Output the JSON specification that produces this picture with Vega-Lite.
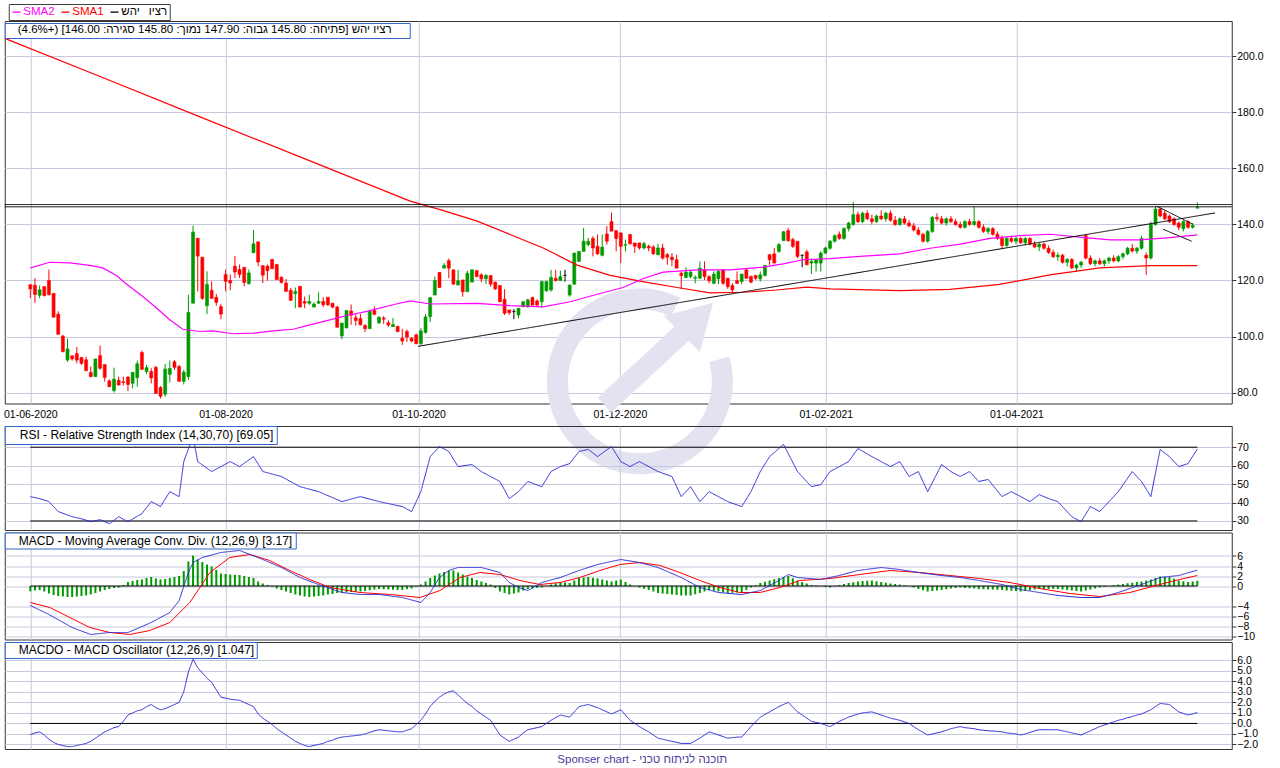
{
"$schema": "https://vega.github.io/schema/vega-lite/v6.json",
"background": "white",
"padding": {"left": 1.75, "top": 3, "right": 0, "bottom": 0},
"bounds": "flush",
"spacing": 22,
"config": {
  "font": "Liberation Sans",
  "view": {"stroke": "#333333", "strokeWidth": 1},
  "scale": {"continuousPadding": 0},
  "axis": {"labelFont": "Liberation Sans", "labelFontSize": 10.5, "labelColor": "#000000", "gridColor": "#c8c8dc", "domain": false, "tickColor": "#333333", "tickSize": 4, "labelPadding": 1, "title": null, "labelOverlap": false, "labelSeparation": -30},
  "legend": {"labelFont": "Liberation Sans", "titleFont": "Liberation Sans", "labelLimit": 1000}
},
"resolve": {"scale": {"color": "independent", "strokeDash": "independent"}, "legend": {"color": "independent", "strokeDash": "independent"}},
"datasets": {
"c": [
{"i":0,"o":118.5,"h":118.6,"l":113.7,"c":117},{"i":1,"o":118.3,"h":120.8,"l":112,"c":115},{"i":2,"o":114.7,"h":118.2,"l":113.7,"c":116.7},{"i":3,"o":117.8,"h":118,"l":114.3,"c":114.6},{"i":4,"o":120,"h":123.9,"l":114.7,"c":114.9},{"i":5,"o":115.4,"h":115.4,"l":106.9,"c":106.9},{"i":6,"o":108,"h":109,"l":100.8,"c":100.8},{"i":7,"o":100.2,"h":100.5,"l":94.4,"c":94.6},{"i":8,"o":91.6,"h":99.2,"l":91,"c":95.6},{"i":9,"o":93.1,"h":93.4,"l":91.4,"c":92},
{"i":10,"o":93.9,"h":96.3,"l":90.4,"c":91.6},{"i":11,"o":92.5,"h":92.8,"l":89.9,"c":90.4},{"i":12,"o":91.7,"h":92.8,"l":87.8,"c":87.8},{"i":13,"o":87.2,"h":89.3,"l":85.4,"c":85.7},{"i":14,"o":85.7,"h":92,"l":85.7,"c":92},{"i":15,"o":93.2,"h":96.8,"l":88.1,"c":88.7},{"i":16,"o":90,"h":90,"l":83.9,"c":85.4},{"i":17,"o":84.2,"h":84.7,"l":81.9,"c":82.1},{"i":18,"o":80.7,"h":88.9,"l":80,"c":84.8},{"i":19,"o":84.4,"h":85.7,"l":82.5,"c":82.7},
{"i":20,"o":83.9,"h":85.7,"l":82.5,"c":83.6},{"i":21,"o":85.5,"h":86,"l":80.5,"c":82.9},{"i":22,"o":83.3,"h":87.4,"l":81.5,"c":87.2},{"i":23,"o":85.3,"h":91.4,"l":82.1,"c":90.3},{"i":24,"o":94.3,"h":95,"l":88.1,"c":88.3},{"i":25,"o":87.5,"h":89.9,"l":86.6,"c":88.9},{"i":26,"o":87.5,"h":88.7,"l":83.3,"c":85.2},{"i":27,"o":89,"h":89.5,"l":79.7,"c":79.7},{"i":28,"o":81.8,"h":82.3,"l":77.9,"c":78.7},{"i":29,"o":79.4,"h":90.2,"l":78.5,"c":88.4},
{"i":30,"o":86.5,"h":91.4,"l":83.6,"c":88.6},{"i":31,"o":91,"h":91.6,"l":88.1,"c":89},{"i":32,"o":89.3,"h":89.9,"l":84,"c":84},{"i":33,"o":84,"h":88.1,"l":82.9,"c":87.3},{"i":34,"o":85.7,"h":114.9,"l":84.5,"c":108.6},{"i":35,"o":111.9,"h":139.6,"l":111.7,"c":137.3},{"i":36,"o":135.1,"h":135.1,"l":116.1,"c":128.7},{"i":37,"o":128.3,"h":128.3,"l":113.1,"c":113.6},{"i":38,"o":111,"h":123.3,"l":108,"c":118.6},{"i":39,"o":116.5,"h":119.7,"l":113.5,"c":113.6},
{"i":40,"o":114,"h":115.2,"l":111,"c":112.2},{"i":41,"o":110.7,"h":111.7,"l":106.2,"c":108},{"i":42,"o":122.1,"h":123.9,"l":116.1,"c":119.7},{"i":43,"o":120,"h":122.1,"l":116.5,"c":119.1},{"i":44,"o":125.1,"h":128.7,"l":120.9,"c":123},{"i":45,"o":123.9,"h":125.7,"l":120.9,"c":122.1},{"i":46,"o":124.7,"h":124.7,"l":117.9,"c":119.3},{"i":47,"o":118.9,"h":123.9,"l":118.5,"c":122.7},{"i":48,"o":129.9,"h":138,"l":129.9,"c":133.1},{"i":49,"o":133.8,"h":133.8,"l":125.1,"c":126.6},
{"i":50,"o":125.3,"h":125.3,"l":119.1,"c":121.9},{"i":51,"o":125.1,"h":125.7,"l":119.9,"c":123.5},{"i":52,"o":127.5,"h":127.7,"l":124.2,"c":124.2},{"i":53,"o":125.7,"h":125.7,"l":120.3,"c":120.3},{"i":54,"o":121.1,"h":121.5,"l":118.9,"c":119.3},{"i":55,"o":119.1,"h":120.5,"l":116.1,"c":116.1},{"i":56,"o":116.5,"h":117.3,"l":112.9,"c":112.9},{"i":57,"o":115.3,"h":117.5,"l":110.1,"c":116.1},{"i":58,"o":117.9,"h":117.9,"l":110.5,"c":110.5},{"i":59,"o":112.5,"h":114.3,"l":110.1,"c":111.9},
{"i":60,"o":111.9,"h":114.9,"l":111.3,"c":112.5},{"i":61,"o":110.5,"h":112.2,"l":110.5,"c":111.6},{"i":62,"o":111.9,"h":115.8,"l":111.7,"c":112.5},{"i":63,"o":112.5,"h":114,"l":110.5,"c":111.3},{"i":64,"o":114,"h":114,"l":111,"c":111.3},{"i":65,"o":111.9,"h":111.9,"l":110.1,"c":110.5},{"i":66,"o":110.5,"h":111,"l":103.3,"c":103.3},{"i":67,"o":100.2,"h":104.8,"l":99,"c":104.8},{"i":68,"o":103.1,"h":109.3,"l":102.9,"c":109.3},{"i":69,"o":109.1,"h":111.4,"l":104.2,"c":107.6},
{"i":70,"o":106.7,"h":107.9,"l":103.9,"c":105.7},{"i":71,"o":106.4,"h":108.1,"l":103.9,"c":104.2},{"i":72,"o":103.9,"h":104.5,"l":101.6,"c":102.8},{"i":73,"o":102.8,"h":109,"l":102.8,"c":109},{"i":74,"o":109.3,"h":110.7,"l":107.6,"c":107.9},{"i":75,"o":104.9,"h":107.2,"l":104.5,"c":106.9},{"i":76,"o":106.6,"h":107.3,"l":104.5,"c":106.2},{"i":77,"o":104.9,"h":105.8,"l":103.4,"c":104.1},{"i":78,"o":103.5,"h":106.6,"l":103.4,"c":104.3},{"i":79,"o":103.6,"h":103.9,"l":101.5,"c":101.8},
{"i":80,"o":99.4,"h":102.8,"l":97,"c":98.4},{"i":81,"o":101.8,"h":102.5,"l":98.1,"c":99.8},{"i":82,"o":99.4,"h":99.8,"l":97.9,"c":98.4},{"i":83,"o":100.6,"h":101,"l":97.4,"c":97.4},{"i":84,"o":97.5,"h":103,"l":97,"c":102},{"i":85,"o":101.5,"h":108,"l":101,"c":107},{"i":86,"o":107.1,"h":113.9,"l":105.2,"c":113.9},{"i":87,"o":114.8,"h":121.4,"l":114.8,"c":120},{"i":88,"o":122.9,"h":122.9,"l":117.3,"c":117.5},{"i":89,"o":124.4,"h":126.2,"l":124.4,"c":125.4},
{"i":90,"o":127.1,"h":127.8,"l":120.8,"c":124.4},{"i":91,"o":123.8,"h":123.8,"l":118.4,"c":118.7},{"i":92,"o":118.4,"h":123.8,"l":118.2,"c":119.9},{"i":93,"o":120.2,"h":120.2,"l":114.2,"c":116},{"i":94,"o":116,"h":123.5,"l":116,"c":122.6},{"i":95,"o":119.4,"h":124.1,"l":119.4,"c":123.8},{"i":96,"o":123.5,"h":123.8,"l":121.1,"c":121.4},{"i":97,"o":122,"h":122.6,"l":119.4,"c":120.6},{"i":98,"o":120.6,"h":122.3,"l":118.7,"c":121.8},{"i":99,"o":121.8,"h":121.8,"l":117.8,"c":118.7},
{"i":100,"o":119.4,"h":119.6,"l":116.6,"c":117},{"i":101,"o":118.2,"h":118.2,"l":112.4,"c":112.4},{"i":102,"o":113.3,"h":116.9,"l":107.7,"c":108.3},{"i":103,"o":109.5,"h":109.5,"l":107.7,"c":108.5},{"i":104,"o":108.9,"h":109.8,"l":106.2,"c":108.9},{"i":105,"o":107.7,"h":110.1,"l":106.5,"c":110.1},{"i":106,"o":110.6,"h":112.7,"l":110.6,"c":112.4},{"i":107,"o":110.6,"h":113.5,"l":110.3,"c":113.1},{"i":108,"o":113.9,"h":114.2,"l":111.2,"c":111.2},{"i":109,"o":112.7,"h":113.3,"l":111,"c":111.2},
{"i":110,"o":112.4,"h":119.9,"l":110.3,"c":119.6},{"i":111,"o":116.3,"h":119.9,"l":116,"c":119.6},{"i":112,"o":116.6,"h":123.8,"l":116,"c":121.1},{"i":113,"o":120.8,"h":123.8,"l":119.6,"c":120},{"i":114,"o":120,"h":123.5,"l":119.9,"c":121.4},{"i":115,"o":121.8,"h":123.8,"l":119.6,"c":121.8},{"i":116,"o":114.8,"h":118.4,"l":114.2,"c":118.4},{"i":117,"o":118.7,"h":129.8,"l":118.4,"c":129.8},{"i":118,"o":126.8,"h":130.4,"l":126.8,"c":130.4},{"i":119,"o":130.4,"h":138.8,"l":130.4,"c":134},
{"i":120,"o":132.8,"h":135.2,"l":132.2,"c":134},{"i":121,"o":135,"h":135.8,"l":128.6,"c":131.6},{"i":122,"o":132.2,"h":136.4,"l":129.2,"c":129.5},{"i":123,"o":129,"h":136.4,"l":128.6,"c":131.9},{"i":124,"o":136.6,"h":139.4,"l":132.8,"c":134},{"i":125,"o":141,"h":144.2,"l":137.6,"c":137.6},{"i":126,"o":137.8,"h":137.8,"l":130.4,"c":135},{"i":127,"o":137,"h":137,"l":126.2,"c":132.2},{"i":128,"o":132.6,"h":134.6,"l":130.4,"c":132.8},{"i":129,"o":136.4,"h":136.4,"l":132.8,"c":133.1},
{"i":130,"o":133.4,"h":133.4,"l":129.8,"c":132.2},{"i":131,"o":133.4,"h":133.4,"l":131,"c":131.6},{"i":132,"o":131.6,"h":133.8,"l":131,"c":133.1},{"i":133,"o":132.2,"h":132.8,"l":130.4,"c":131.6},{"i":134,"o":131.9,"h":132.6,"l":129.2,"c":129.5},{"i":135,"o":129.2,"h":133.1,"l":129,"c":131.6},{"i":136,"o":131.6,"h":133.1,"l":127.4,"c":128},{"i":137,"o":129.2,"h":129.8,"l":125.6,"c":128.3},{"i":138,"o":128.3,"h":129.8,"l":125.1,"c":127.4},{"i":139,"o":127.4,"h":129.2,"l":124.4,"c":124.4},
{"i":140,"o":122.6,"h":123.2,"l":117,"c":121.8},{"i":141,"o":121.1,"h":124.7,"l":120.8,"c":123},{"i":142,"o":121.4,"h":123.8,"l":120.8,"c":123},{"i":143,"o":120.8,"h":121.8,"l":119,"c":121.1},{"i":144,"o":120.8,"h":126.8,"l":120.6,"c":124.4},{"i":145,"o":123.8,"h":126.8,"l":120.2,"c":121.4},{"i":146,"o":121.4,"h":121.8,"l":119,"c":119.9},{"i":147,"o":119,"h":123.2,"l":118.7,"c":122.3},{"i":148,"o":120.6,"h":123.8,"l":118.7,"c":123.2},{"i":149,"o":123.8,"h":123.8,"l":118.4,"c":119},
{"i":150,"o":120.8,"h":120.8,"l":117,"c":117.8},{"i":151,"o":118.2,"h":119,"l":115.4,"c":116.6},{"i":152,"o":119.9,"h":123.2,"l":118.7,"c":119},{"i":153,"o":119.6,"h":122.3,"l":118.7,"c":122.3},{"i":154,"o":123.8,"h":124.4,"l":120.6,"c":120.8},{"i":155,"o":121.4,"h":121.8,"l":119,"c":119.4},{"i":156,"o":121.8,"h":121.8,"l":120.2,"c":120.8},{"i":157,"o":120.6,"h":123.2,"l":119.6,"c":122},{"i":158,"o":121.8,"h":125.4,"l":121.4,"c":125.4},{"i":159,"o":129.2,"h":129.5,"l":125.6,"c":127.4},
{"i":160,"o":129.5,"h":131.6,"l":126.2,"c":126.2},{"i":161,"o":130.4,"h":133.4,"l":129.8,"c":132.8},{"i":162,"o":134.2,"h":137.6,"l":134.2,"c":137.4},{"i":163,"o":137.8,"h":138.8,"l":133.8,"c":134.2},{"i":164,"o":134.6,"h":135.2,"l":131.6,"c":132.2},{"i":165,"o":134,"h":134,"l":128,"c":128.6},{"i":166,"o":129,"h":129.2,"l":124.7,"c":129},{"i":167,"o":130.2,"h":131,"l":125.4,"c":125.6},{"i":168,"o":126.2,"h":127.8,"l":122.3,"c":126.8},{"i":169,"o":126.2,"h":127.4,"l":123.2,"c":127.4},
{"i":170,"o":126.2,"h":130.4,"l":123.2,"c":129.8},{"i":171,"o":129.8,"h":132,"l":129.4,"c":131.6},{"i":172,"o":131.5,"h":134.5,"l":131,"c":134},{"i":173,"o":134,"h":136.5,"l":133.5,"c":136},{"i":174,"o":136.5,"h":137.5,"l":134.5,"c":135},{"i":175,"o":135,"h":139,"l":134.5,"c":138.5},{"i":176,"o":138.5,"h":141,"l":137.5,"c":140.5},{"i":177,"o":140,"h":148,"l":139.5,"c":143.5},{"i":178,"o":143.5,"h":144.5,"l":140.5,"c":141},{"i":179,"o":141,"h":144.5,"l":140.5,"c":144},
{"i":180,"o":144,"h":145,"l":141.5,"c":142},{"i":181,"o":142,"h":143.5,"l":140,"c":141},{"i":182,"o":141,"h":143.5,"l":140.5,"c":143},{"i":183,"o":143,"h":145,"l":141.5,"c":142},{"i":184,"o":142,"h":144.5,"l":141,"c":144},{"i":185,"o":144,"h":145,"l":141,"c":141.5},{"i":186,"o":141.5,"h":143,"l":139.5,"c":140},{"i":187,"o":140,"h":142.5,"l":139.5,"c":142},{"i":188,"o":142,"h":143,"l":140,"c":140.5},{"i":189,"o":140.5,"h":141.5,"l":139,"c":139.5},
{"i":190,"o":139.5,"h":140.5,"l":137.5,"c":138},{"i":191,"o":138,"h":139,"l":136,"c":136.5},{"i":192,"o":136.5,"h":137,"l":133.5,"c":134},{"i":193,"o":134,"h":138,"l":133.5,"c":137.5},{"i":194,"o":137.5,"h":143,"l":137,"c":142.5},{"i":195,"o":142.5,"h":144,"l":141,"c":142},{"i":196,"o":142,"h":143,"l":140,"c":140.5},{"i":197,"o":140.5,"h":142.5,"l":139.5,"c":142},{"i":198,"o":142,"h":143,"l":140.5,"c":141},{"i":199,"o":141,"h":142,"l":139.5,"c":140},
{"i":200,"o":140,"h":141,"l":138.5,"c":139},{"i":201,"o":139,"h":141.5,"l":138.5,"c":141},{"i":202,"o":141,"h":142,"l":139.5,"c":140},{"i":203,"o":140,"h":146.5,"l":139.5,"c":141},{"i":204,"o":141,"h":141.5,"l":138.5,"c":139},{"i":205,"o":139,"h":140,"l":137,"c":137.5},{"i":206,"o":137.5,"h":139,"l":136.5,"c":138.5},{"i":207,"o":138.5,"h":139,"l":136,"c":136.5},{"i":208,"o":136.5,"h":137.5,"l":134.5,"c":135},{"i":209,"o":135,"h":136,"l":131.5,"c":132.5},
{"i":210,"o":132.5,"h":135.5,"l":132,"c":135},{"i":211,"o":135,"h":136,"l":133.5,"c":134},{"i":212,"o":134,"h":135.5,"l":133,"c":135},{"i":213,"o":135,"h":135.5,"l":133,"c":133.5},{"i":214,"o":133.5,"h":135.5,"l":132.5,"c":135},{"i":215,"o":135,"h":135.5,"l":132.5,"c":133},{"i":216,"o":133,"h":134,"l":131.5,"c":132},{"i":217,"o":132,"h":133.5,"l":130.5,"c":133},{"i":218,"o":133,"h":133.5,"l":131,"c":131.5},{"i":219,"o":131.5,"h":132.5,"l":129.5,"c":130},
{"i":220,"o":130,"h":131,"l":128,"c":128.5},{"i":221,"o":128.5,"h":130,"l":127,"c":129},{"i":222,"o":129,"h":129.5,"l":126,"c":126.5},{"i":223,"o":126.5,"h":128,"l":125,"c":127.5},{"i":224,"o":127.5,"h":128,"l":124,"c":124.5},{"i":225,"o":124.5,"h":126,"l":123,"c":125.5},{"i":226,"o":125.5,"h":127,"l":124.5,"c":126.5},{"i":227,"o":136,"h":136.5,"l":127.5,"c":128},{"i":228,"o":128,"h":129,"l":125.5,"c":126},{"i":229,"o":126,"h":127.5,"l":125,"c":127},
{"i":230,"o":127,"h":128,"l":125.5,"c":126},{"i":231,"o":126,"h":127.5,"l":125,"c":127},{"i":232,"o":127,"h":128.5,"l":126,"c":128},{"i":233,"o":128,"h":129,"l":126.5,"c":127},{"i":234,"o":127,"h":129,"l":126.5,"c":128.5},{"i":235,"o":128.5,"h":130,"l":127.5,"c":129.5},{"i":236,"o":129.5,"h":132,"l":129,"c":131.5},{"i":237,"o":131.5,"h":133,"l":130,"c":130.5},{"i":238,"o":130.5,"h":132,"l":129.5,"c":131.5},{"i":239,"o":131.5,"h":136,"l":131,"c":135},
{"i":240,"o":129,"h":130,"l":122,"c":128},{"i":241,"o":128,"h":141,"l":127.5,"c":140},{"i":242,"o":140,"h":146.5,"l":139.5,"c":145.5},{"i":243,"o":145.5,"h":146,"l":142.5,"c":143},{"i":244,"o":144,"h":145,"l":141.5,"c":142},{"i":245,"o":143,"h":143.5,"l":140.5,"c":141},{"i":246,"o":142,"h":142.5,"l":139.5,"c":140},{"i":247,"o":140.5,"h":141,"l":138,"c":139},{"i":248,"o":138.5,"h":141.5,"l":137.5,"c":141},{"i":249,"o":141,"h":141.5,"l":138.5,"c":139},
{"i":250,"o":139,"h":140.5,"l":138.5,"c":139.6},{"i":251,"o":145.8,"h":147.9,"l":145.8,"c":146}
],
"sma": [
{"s":"SMA1","i":-5.5,"v":206.4},{"s":"SMA1","i":15,"v":192.8},{"s":"SMA1","i":36.5,"v":178.4},{"s":"SMA1","i":58,"v":164.1},{"s":"SMA1","i":81.7,"v":148.3},{"s":"SMA1","i":88.7,"v":145},{"s":"SMA1","i":96.1,"v":141.2},{"s":"SMA1","i":103.2,"v":136.4},{"s":"SMA1","i":110.3,"v":131.6},{"s":"SMA1","i":117.6,"v":125.5},{"s":"SMA1","i":124.7,"v":121.8},{"s":"SMA1","i":131.7,"v":119.6},{"s":"SMA1","i":139.1,"v":117.5},{"s":"SMA1","i":146.2,"v":115.6},{"s":"SMA1","i":153.3,"v":115.8},{"s":"SMA1","i":160.5,"v":116.6},{"s":"SMA1","i":167,"v":117.6},{"s":"SMA1","i":172,"v":117},{"s":"SMA1","i":187,"v":116.4},{"s":"SMA1","i":197.8,"v":116.8},{"s":"SMA1","i":208.5,"v":118.6},{"s":"SMA1","i":219.3,"v":122},{"s":"SMA1","i":230,"v":124.5},{"s":"SMA1","i":240.8,"v":125.3},{"s":"SMA1","i":251,"v":125.3},
{"s":"SMA2","i":0,"v":124.5},{"s":"SMA2","i":4.2,"v":126.5},{"s":"SMA2","i":8.5,"v":126.3},{"s":"SMA2","i":12.8,"v":125.4},{"s":"SMA2","i":15.6,"v":124.5},{"s":"SMA2","i":18.6,"v":121.7},{"s":"SMA2","i":20.4,"v":119.1},{"s":"SMA2","i":24.2,"v":114.3},{"s":"SMA2","i":27.2,"v":110.1},{"s":"SMA2","i":30,"v":106},{"s":"SMA2","i":32.8,"v":102.6},{"s":"SMA2","i":36.5,"v":101.8},{"s":"SMA2","i":39.3,"v":102},{"s":"SMA2","i":43.6,"v":101},{"s":"SMA2","i":47.9,"v":101.2},{"s":"SMA2","i":52.2,"v":102},{"s":"SMA2","i":56.5,"v":102.6},{"s":"SMA2","i":59.5,"v":103.9},{"s":"SMA2","i":63.8,"v":105.7},{"s":"SMA2","i":68.1,"v":107.5},{"s":"SMA2","i":72.4,"v":109},{"s":"SMA2","i":78.9,"v":111.7},{"s":"SMA2","i":81.7,"v":112.7},{"s":"SMA2","i":86,"v":111.6},{"s":"SMA2","i":96.1,"v":111.8},{"s":"SMA2","i":103.2,"v":111},{"s":"SMA2","i":110.3,"v":110.6},{"s":"SMA2","i":116.1,"v":112.4},{"s":"SMA2","i":121.9,"v":115.1},{"s":"SMA2","i":127.5,"v":117.5},{"s":"SMA2","i":131.7,"v":120.6},{"s":"SMA2","i":136.1,"v":123},{"s":"SMA2","i":143.4,"v":123.8},{"s":"SMA2","i":150.5,"v":123.8},{"s":"SMA2","i":157.6,"v":124.8},{"s":"SMA2","i":161.9,"v":125.9},{"s":"SMA2","i":166.2,"v":127.4},{"s":"SMA2","i":172,"v":127.8},{"s":"SMA2","i":178.4,"v":128.6},{"s":"SMA2","i":187,"v":129.5},{"s":"SMA2","i":193.5,"v":131.5},{"s":"SMA2","i":200,"v":133},{"s":"SMA2","i":206.4,"v":135},{"s":"SMA2","i":212.8,"v":136},{"s":"SMA2","i":219.3,"v":136.5},{"s":"SMA2","i":225.7,"v":135.5},{"s":"SMA2","i":232.2,"v":134.5},{"s":"SMA2","i":238.6,"v":134.5},{"s":"SMA2","i":245.1,"v":135.3},{"s":"SMA2","i":251,"v":136.3}
],
"tl": [
{"g":"t1","i":83.4,"p":96.5},{"g":"t1","i":254.8,"p":144.1},
{"g":"h1","i":-5.5,"p":147.1},{"g":"h1","i":258.4,"p":147.1},
{"g":"h2","i":-5.5,"p":146.3},{"g":"h2","i":258.4,"p":146.3},
{"g":"f1","i":242.3,"p":146.5},{"g":"f1","i":250,"p":140.1},
{"g":"f2","i":243.6,"p":138.3},{"g":"f2","i":249.8,"p":134}
],
"wm": [{"g":"a","i":123.5,"p":75.5},{"g":"a","i":141.5,"p":103.2}],
"wmc": [{"i":131.1,"p":84}],
"wmh": [{"i":143.5,"p":106.5}],
"rsi": [
{"i":0,"v":43.2},{"i":2,"v":42.1},{"i":4,"v":40.5},{"i":6,"v":35.1},{"i":9,"v":32.3},{"i":11,"v":31.2},{"i":13,"v":29.6},{"i":15,"v":30.7},{"i":17,"v":28.5},{"i":19,"v":32.3},{"i":21,"v":29.6},{"i":24,"v":34},{"i":26,"v":40.5},{"i":28,"v":37.8},{"i":30,"v":45.9},{"i":32,"v":43.2},{"i":33,"v":62.2},{"i":35,"v":75.8},{"i":36,"v":62.2},{"i":39,"v":56.8},{"i":41,"v":59.5},{"i":43,"v":62.2},{"i":45,"v":59.5},{"i":48,"v":64.9},{"i":50,"v":56.8},{"i":54,"v":54.1},{"i":58,"v":48.6},{"i":62,"v":45.9},{"i":67,"v":40.5},{"i":71,"v":43.2},{"i":75,"v":40.5},{"i":80,"v":37.8},{"i":82,"v":35.1},{"i":84,"v":45.9},{"i":86,"v":64.9},{"i":88,"v":70.4},{"i":90,"v":67.7},{"i":92,"v":59.5},{"i":95,"v":60.6},{"i":97,"v":56.8},{"i":99,"v":54.1},{"i":101,"v":51.4},{"i":103,"v":42.1},{"i":105,"v":45.9},{"i":107,"v":51.4},{"i":110,"v":48.6},{"i":112,"v":56.8},{"i":114,"v":59.5},{"i":116,"v":61.1},{"i":118,"v":67.7},{"i":120,"v":68.8},{"i":122,"v":64.9},{"i":125,"v":70.4},{"i":127,"v":62.2},{"i":129,"v":59.5},{"i":131,"v":62.2},{"i":133,"v":59.5},{"i":135,"v":56.8},{"i":138,"v":54.1},{"i":140,"v":43.2},{"i":142,"v":48.6},{"i":144,"v":40.5},{"i":146,"v":45.9},{"i":148,"v":43.2},{"i":150,"v":40.5},{"i":153,"v":37.8},{"i":155,"v":45.9},{"i":157,"v":56.8},{"i":159,"v":64.9},{"i":162,"v":71.5},{"i":165,"v":56.8},{"i":168,"v":48.6},{"i":170,"v":49.7},{"i":172,"v":56.8},{"i":174,"v":59.5},{"i":176,"v":62.2},{"i":178,"v":69.3},{"i":181,"v":64.9},{"i":183,"v":62.2},{"i":185,"v":59.5},{"i":187,"v":62.2},{"i":189,"v":54.1},{"i":191,"v":56.8},{"i":193,"v":45.9},{"i":196,"v":60.6},{"i":198,"v":56.8},{"i":200,"v":54.1},{"i":202,"v":56.8},{"i":204,"v":51.4},{"i":206,"v":52.5},{"i":209,"v":43.2},{"i":211,"v":45.9},{"i":213,"v":43.2},{"i":215,"v":40.5},{"i":217,"v":44.3},{"i":219,"v":42.1},{"i":221,"v":40.5},{"i":224,"v":32.3},{"i":226,"v":29.6},{"i":228,"v":37.8},{"i":230,"v":35.1},{"i":232,"v":40.5},{"i":234,"v":45.9},{"i":237,"v":56.8},{"i":239,"v":51.4},{"i":241,"v":43.2},{"i":243,"v":68.8},{"i":245,"v":64.9},{"i":247,"v":59.5},{"i":249,"v":61.1},{"i":251,"v":69.05}
],
"macd": [
{"i":0,"v":-3.9},{"i":4,"v":-5.7},{"i":9,"v":-8.3},{"i":13,"v":-9.7},{"i":17,"v":-9.3},{"i":21,"v":-9.3},{"i":26,"v":-7.3},{"i":30,"v":-5.3},{"i":32,"v":-2.9},{"i":34,"v":2.7},{"i":35,"v":4.7},{"i":37,"v":5.7},{"i":41,"v":6.7},{"i":45,"v":7.1},{"i":49,"v":5.7},{"i":54,"v":3.7},{"i":58,"v":1.7},{"i":62,"v":0.3},{"i":67,"v":-1.3},{"i":71,"v":-1.7},{"i":75,"v":-1.7},{"i":80,"v":-2.3},{"i":84,"v":-3.3},{"i":86,"v":-1.3},{"i":88,"v":1.7},{"i":90,"v":3.1},{"i":92,"v":3.7},{"i":97,"v":3.7},{"i":101,"v":2.7},{"i":103,"v":0.7},{"i":105,"v":-0.3},{"i":107,"v":-0.9},{"i":110,"v":0.7},{"i":114,"v":1.7},{"i":118,"v":3.1},{"i":122,"v":4.3},{"i":127,"v":5.3},{"i":131,"v":4.7},{"i":135,"v":3.7},{"i":140,"v":1.7},{"i":144,"v":-0.3},{"i":148,"v":-1.3},{"i":153,"v":-1.7},{"i":157,"v":-0.9},{"i":161,"v":1.1},{"i":163,"v":2.3},{"i":165,"v":1.7},{"i":170,"v":1.3},{"i":174,"v":2.1},{"i":178,"v":3.1},{"i":183,"v":3.7},{"i":187,"v":3.3},{"i":191,"v":2.7},{"i":196,"v":2.1},{"i":200,"v":1.7},{"i":204,"v":1.1},{"i":209,"v":0.3},{"i":213,"v":-0.7},{"i":217,"v":-1.3},{"i":221,"v":-1.9},{"i":226,"v":-2.3},{"i":230,"v":-2.3},{"i":234,"v":-1.3},{"i":239,"v":0.3},{"i":243,"v":1.7},{"i":247,"v":2.1},{"i":251,"v":3.17}
],
"sig": [
{"i":0,"v":-3.3},{"i":4.2,"v":-4.3},{"i":8.5,"v":-6.3},{"i":12.8,"v":-8.3},{"i":17.1,"v":-9.3},{"i":21.4,"v":-9.7},{"i":25.7,"v":-8.9},{"i":30,"v":-7.3},{"i":34.3,"v":-3.3},{"i":36.5,"v":-0.3},{"i":38.6,"v":2.7},{"i":42.9,"v":5.7},{"i":47.2,"v":6.3},{"i":51.5,"v":5.1},{"i":55.8,"v":3.1},{"i":60.1,"v":1.3},{"i":64.5,"v":-0.3},{"i":70.9,"v":-1.3},{"i":77.4,"v":-1.7},{"i":83.8,"v":-2.3},{"i":88.1,"v":-0.9},{"i":92.4,"v":1.7},{"i":96.7,"v":2.7},{"i":101,"v":2.3},{"i":105.3,"v":1.1},{"i":109.6,"v":0.3},{"i":113.9,"v":0.7},{"i":118.2,"v":1.7},{"i":122.5,"v":3.1},{"i":126.8,"v":4.3},{"i":131.1,"v":4.7},{"i":135.4,"v":4.1},{"i":139.7,"v":2.7},{"i":144,"v":1.1},{"i":148.3,"v":-0.3},{"i":152.6,"v":-1.3},{"i":156.9,"v":-1.3},{"i":161.2,"v":-0.3},{"i":165.5,"v":1.1},{"i":172,"v":1.5},{"i":178.4,"v":2.3},{"i":184.9,"v":3.1},{"i":191.3,"v":2.7},{"i":197.8,"v":2.1},{"i":204.2,"v":1.5},{"i":210.7,"v":0.7},{"i":217.1,"v":-0.5},{"i":223.6,"v":-1.5},{"i":230,"v":-2.1},{"i":236.5,"v":-1.3},{"i":242.9,"v":0.3},{"i":247.2,"v":1.3},{"i":251,"v":2.1}
],
"osc": [
{"i":0,"v":-1.07},{"i":1,"v":-0.9},{"i":2,"v":-0.8},{"i":3,"v":-1.1},{"i":4,"v":-1.5},{"i":5,"v":-1.8},{"i":6,"v":-2.0},{"i":7,"v":-2.1},{"i":8,"v":-2.2},{"i":9,"v":-2.2},
{"i":10,"v":-2.1},{"i":11,"v":-2.0},{"i":12,"v":-1.9},{"i":13,"v":-1.7},{"i":14,"v":-1.4},{"i":15,"v":-1.1},{"i":16,"v":-0.8},{"i":17,"v":-0.6},{"i":18,"v":-0.4},{"i":19,"v":-0.3},
{"i":20,"v":0.2},{"i":21,"v":0.8},{"i":22,"v":1.0},{"i":23,"v":1.2},{"i":24,"v":1.3},{"i":25,"v":1.6},{"i":26,"v":1.8},{"i":27,"v":1.5},{"i":28,"v":1.3},{"i":29,"v":1.4},
{"i":30,"v":1.6},{"i":31,"v":1.8},{"i":32,"v":2.0},{"i":33,"v":3.0},{"i":34,"v":4.9},{"i":35,"v":6.1},{"i":36,"v":5.3},{"i":37,"v":4.8},{"i":38,"v":4.3},{"i":39,"v":3.9},
{"i":40,"v":3.2},{"i":41,"v":2.5},{"i":42,"v":2.4},{"i":43,"v":2.3},{"i":44,"v":2.25},{"i":45,"v":2.2},{"i":46,"v":2.0},{"i":47,"v":1.8},{"i":48,"v":1.6},{"i":49,"v":0.9},
{"i":50,"v":0.5},{"i":51,"v":0.2},{"i":52,"v":-0.1},{"i":53,"v":-0.5},{"i":54,"v":-0.8},{"i":55,"v":-1.1},{"i":56,"v":-1.4},{"i":57,"v":-1.7},{"i":58,"v":-1.9},{"i":59,"v":-2.1},
{"i":60,"v":-2.2},{"i":61,"v":-2.1},{"i":62,"v":-2.0},{"i":63,"v":-1.9},{"i":64,"v":-1.7},{"i":65,"v":-1.6},{"i":66,"v":-1.4},{"i":67,"v":-1.3},{"i":68,"v":-1.25},{"i":69,"v":-1.2},
{"i":70,"v":-1.15},{"i":71,"v":-1.1},{"i":72,"v":-1.0},{"i":73,"v":-0.85},{"i":74,"v":-0.7},{"i":75,"v":-0.6},{"i":76,"v":-0.65},{"i":77,"v":-0.7},{"i":78,"v":-0.75},{"i":79,"v":-0.8},
{"i":80,"v":-0.8},{"i":81,"v":-0.65},{"i":82,"v":-0.5},{"i":83,"v":-0.1},{"i":84,"v":0.3},{"i":85,"v":0.9},{"i":86,"v":1.6},{"i":87,"v":2.1},{"i":88,"v":2.5},{"i":89,"v":2.8},
{"i":90,"v":3.0},{"i":91,"v":3.1},{"i":92,"v":2.7},{"i":93,"v":2.3},{"i":94,"v":1.9},{"i":95,"v":1.6},{"i":96,"v":1.2},{"i":97,"v":0.9},{"i":98,"v":0.6},{"i":99,"v":0.3},
{"i":100,"v":-0.4},{"i":101,"v":-1.1},{"i":102,"v":-1.4},{"i":103,"v":-1.7},{"i":104,"v":-1.5},{"i":105,"v":-1.3},{"i":106,"v":-0.9},{"i":107,"v":-0.6},{"i":108,"v":-0.5},{"i":109,"v":-0.4},
{"i":110,"v":-0.3},{"i":111,"v":0},{"i":112,"v":0.3},{"i":113,"v":0.55},{"i":114,"v":0.8},{"i":115,"v":0.7},{"i":116,"v":0.6},{"i":117,"v":1.1},{"i":118,"v":1.6},{"i":119,"v":1.7},
{"i":120,"v":1.8},{"i":121,"v":1.65},{"i":122,"v":1.5},{"i":123,"v":1.3},{"i":124,"v":1.1},{"i":125,"v":0.9},{"i":126,"v":1.1},{"i":127,"v":1.3},{"i":128,"v":0.8},{"i":129,"v":0.3},
{"i":130,"v":0},{"i":131,"v":-0.3},{"i":132,"v":-0.55},{"i":133,"v":-0.8},{"i":134,"v":-1.1},{"i":135,"v":-1.4},{"i":136,"v":-1.5},{"i":137,"v":-1.6},{"i":138,"v":-1.7},{"i":139,"v":-1.8},
{"i":140,"v":-1.9},{"i":141,"v":-1.9},{"i":142,"v":-1.9},{"i":143,"v":-1.65},{"i":144,"v":-1.4},{"i":145,"v":-1.1},{"i":146,"v":-0.8},{"i":147,"v":-0.95},{"i":148,"v":-1.1},{"i":149,"v":-1.25},
{"i":150,"v":-1.4},{"i":151,"v":-1.35},{"i":152,"v":-1.3},{"i":153,"v":-1.3},{"i":154,"v":-0.8},{"i":155,"v":-0.3},{"i":156,"v":0.15},{"i":157,"v":0.6},{"i":158,"v":0.85},{"i":159,"v":1.1},
{"i":160,"v":1.35},{"i":161,"v":1.6},{"i":162,"v":1.8},{"i":163,"v":2.0},{"i":164,"v":1.55},{"i":165,"v":1.1},{"i":166,"v":0.8},{"i":167,"v":0.5},{"i":168,"v":0.2},{"i":169,"v":0.1},
{"i":170,"v":0},{"i":171,"v":-0.15},{"i":172,"v":-0.3},{"i":173,"v":-0.05},{"i":174,"v":0.2},{"i":175,"v":0.4},{"i":176,"v":0.6},{"i":177,"v":0.75},{"i":178,"v":0.9},{"i":179,"v":1.0},
{"i":180,"v":1.05},{"i":181,"v":1.1},{"i":182,"v":0.95},{"i":183,"v":0.8},{"i":184,"v":0.65},{"i":185,"v":0.5},{"i":186,"v":0.4},{"i":187,"v":0.3},{"i":188,"v":0.15},{"i":189,"v":0},
{"i":190,"v":-0.3},{"i":191,"v":-0.6},{"i":192,"v":-0.85},{"i":193,"v":-1.1},{"i":194,"v":-1.0},{"i":195,"v":-0.9},{"i":196,"v":-0.8},{"i":197,"v":-0.65},{"i":198,"v":-0.5},{"i":199,"v":-0.4},
{"i":200,"v":-0.3},{"i":201,"v":-0.4},{"i":202,"v":-0.45},{"i":203,"v":-0.5},{"i":204,"v":-0.6},{"i":205,"v":-0.65},{"i":206,"v":-0.7},{"i":207,"v":-0.72},{"i":208,"v":-0.76},{"i":209,"v":-0.8},
{"i":210,"v":-0.9},{"i":211,"v":-0.95},{"i":212,"v":-1.0},{"i":213,"v":-1.1},{"i":214,"v":-1.0},{"i":215,"v":-0.85},{"i":216,"v":-0.7},{"i":217,"v":-0.6},{"i":218,"v":-0.6},{"i":219,"v":-0.6},
{"i":220,"v":-0.6},{"i":221,"v":-0.6},{"i":222,"v":-0.7},{"i":223,"v":-0.8},{"i":224,"v":-0.9},{"i":225,"v":-1.0},{"i":226,"v":-1.1},{"i":227,"v":-0.9},{"i":228,"v":-0.7},{"i":229,"v":-0.5},
{"i":230,"v":-0.3},{"i":231,"v":-0.15},{"i":232,"v":0},{"i":233,"v":0.15},{"i":234,"v":0.3},{"i":235,"v":0.4},{"i":236,"v":0.55},{"i":237,"v":0.65},{"i":238,"v":0.8},{"i":239,"v":0.9},
{"i":240,"v":1.1},{"i":241,"v":1.3},{"i":242,"v":1.6},{"i":243,"v":1.9},{"i":244,"v":1.85},{"i":245,"v":1.8},{"i":246,"v":1.45},{"i":247,"v":1.1},{"i":248,"v":0.95},{"i":249,"v":0.8},
{"i":250,"v":0.9},{"i":251,"v":1.047}
]
},
"vconcat": [
{
  "width": 1227, "height": 382.5,
  "layer": [
    {"data": {"name": "wmc"}, "mark": {"type": "arc", "radius": 93, "radius2": 72, "theta": 1.3, "theta2": 6.73, "color": "#e2e2f1"},
     "encoding": {
       "x": {"field": "i", "type": "quantitative", "scale": {"domain": [-5.5, 258.4], "nice": false, "zero": false, "padding": 0},
             "axis": {"values": [0, 42, 83.5, 126.8, 171.1, 212.1], "grid": true, "ticks": false, "labels": true, "labelPadding": 6, "labelFontSize": 10.5,
                      "labelExpr": "datum.value < 1 ? '01-06-2020' : datum.value < 50 ? '01-08-2020' : datum.value < 100 ? '01-10-2020' : datum.value < 150 ? '01-12-2020' : datum.value < 200 ? '01-02-2021' : '01-04-2021'"}},
       "y": {"field": "p", "type": "quantitative", "scale": {"domain": [76.1, 212.6], "nice": false, "zero": false},
             "axis": {"orient": "right", "values": [80, 100, 120, 140, 160, 180, 200], "format": ".1f", "grid": true, "labelOverlap": false}}
     }},
    {"data": {"name": "wm"}, "mark": {"type": "line", "strokeWidth": 20, "strokeCap": "butt", "color": "#e2e2f1"},
     "encoding": {"x": {"field": "i", "type": "quantitative"}, "y": {"field": "p", "type": "quantitative"}, "detail": {"field": "g"}}},
    {"data": {"name": "wmh"}, "mark": {"type": "point", "shape": "triangle-up", "filled": true, "size": 2600, "angle": 45, "color": "#e2e2f1", "opacity": 1},
     "encoding": {"x": {"field": "i", "type": "quantitative"}, "y": {"field": "p", "type": "quantitative"}}},
    {"data": {"name": "c"}, "mark": {"type": "rule", "strokeWidth": 1},
     "encoding": {
       "x": {"field": "i", "type": "quantitative"},
       "y": {"field": "l", "type": "quantitative"},
       "y2": {"field": "h"},
       "color": {"condition": [{"test": "datum.c > datum.o", "value": "#009a00"}, {"test": "datum.c < datum.o", "value": "#ff0000"}], "value": "#000000"}
     }},
    {"data": {"name": "c"}, "mark": {"type": "bar", "size": 3, "strokeWidth": 0.6},
     "encoding": {
       "x": {"field": "i", "type": "quantitative"},
       "y": {"field": "o", "type": "quantitative"},
       "y2": {"field": "c"},
       "color": {"condition": [{"test": "datum.c > datum.o", "value": "#009a00"}, {"test": "datum.c < datum.o", "value": "#ff0000"}], "value": "#000000"},
       "stroke": {"condition": [{"test": "datum.c > datum.o", "value": "#009a00"}, {"test": "datum.c < datum.o", "value": "#ff0000"}], "value": "#000000"}
     }},
    {"data": {"name": "sma"}, "mark": {"type": "line", "strokeWidth": 1.2},
     "encoding": {
       "x": {"field": "i", "type": "quantitative"},
       "y": {"field": "v", "type": "quantitative"},
       "color": {"field": "s", "type": "nominal", "scale": {"domain": ["SMA2", "SMA1", "יהש"], "range": ["#ff00ff", "#ff0000", "#000000"]},
                 "legend": {"orient": "none", "legendX": 4, "legendY": -17, "direction": "horizontal", "title": "רציו", "titleOrient": "right", "titleFontSize": 11.5, "titleFontWeight": "normal", "titlePadding": 9,
                            "symbolType": "stroke", "symbolSize": 64, "symbolStrokeWidth": 1.3, "labelFontSize": 11.5, "labelOffset": 1, "columnPadding": 4, "strokeColor": "#404040", "fillColor": "#ffffff", "padding": 2,
                            "encode": {"labels": {"update": {"fill": {"signal": "datum.value == 'SMA2' ? '#ff00ff' : datum.value == 'SMA1' ? '#ff0000' : '#000000'"}}}}}}
     }},
    {"data": {"name": "tl"}, "mark": {"type": "line", "strokeWidth": 1, "color": "#000000"},
     "encoding": {
       "x": {"field": "i", "type": "quantitative"},
       "y": {"field": "p", "type": "quantitative"},
       "detail": {"field": "g"},
       "strokeDash": {"datum": "רציו      יהש [פתיחה: 145.80 גבוה: 147.90 נמוך: 145.80 סגירה: 146.00] (+4.6%)", "type": "nominal", "scale": {"range": [[1, 0]]},
                      "legend": {"orient": "none", "legendX": 0, "legendY": 2, "title": null, "symbolOpacity": 0, "symbolSize": 0, "symbolStrokeWidth": 0, "labelOffset": 0, "labelFontSize": 11.5, "strokeColor": "#3366cc", "fillColor": "#ffffff", "padding": 1.5}}
     }}
  ]
},
{
  "bounds": "flush",
  "spacing": 2.5,
  "resolve": {"scale": {"strokeDash": "independent"}, "legend": {"strokeDash": "independent"}},
  "vconcat": [
  {
    "width": 1227, "height": 104,
    "layer": [
      {"data": {"values": [{"v": 70}, {"v": 30}]}, "mark": {"type": "rule", "color": "#000000", "strokeWidth": 1},
       "encoding": {
         "x": {"datum": 0, "type": "quantitative", "scale": {"domain": [-5.5, 258.4], "nice": false, "zero": false, "padding": 0},
               "axis": {"values": [0, 42, 83.5, 126.8, 171.1, 212.1], "grid": true, "ticks": false, "labels": false}},
         "x2": {"datum": 251},
         "y": {"field": "v", "type": "quantitative", "scale": {"domain": [25.1, 81.5], "nice": false, "zero": false},
               "axis": {"orient": "right", "values": [30, 40, 50, 60, 70], "format": "d", "grid": true, "labelOverlap": false, "labelSeparation": -30}}
       }},
      {"data": {"name": "rsi"}, "mark": {"type": "line", "strokeWidth": 1, "color": "#2a2ad8"},
       "encoding": {
         "x": {"field": "i", "type": "quantitative"},
         "y": {"field": "v", "type": "quantitative", "axis": {"orient": "right", "values": [30, 40, 50, 60, 70], "format": "d", "grid": true, "labelOverlap": false, "labelSeparation": -30}},
         "strokeDash": {"datum": "RSI - Relative Strength Index (14,30,70) [69.05]", "type": "nominal", "scale": {"range": [[1, 0]]},
                        "legend": {"orient": "none", "legendX": 0, "legendY": 0, "title": null, "symbolOpacity": 0, "symbolSize": 0, "symbolStrokeWidth": 0, "labelOffset": 0, "labelFontSize": 12, "strokeColor": "#3366cc", "fillColor": "#ffffff", "padding": 3}}
       }}
    ]
  },
  {
    "width": 1227, "height": 107,
    "layer": [
      {"data": {"name": "osc"}, "mark": {"type": "bar", "size": 2, "color": "#009a00"},
       "encoding": {
         "x": {"field": "i", "type": "quantitative", "scale": {"domain": [-5.5, 258.4], "nice": false, "zero": false, "padding": 0},
               "axis": {"values": [0, 42, 83.5, 126.8, 171.1, 212.1], "grid": true, "ticks": false, "labels": false}},
         "y": {"field": "v", "type": "quantitative", "scale": {"domain": [-10.7, 10.7], "nice": false, "zero": false},
               "axis": {"orient": "right", "values": [6, 4, 2, 0, -4, -6, -8, -10], "format": "d", "grid": true, "labelOverlap": false, "labelSeparation": -30}},
         "y2": {"datum": 0}
       }},
      {"data": {"values": [{"v": 0}]}, "mark": {"type": "rule", "color": "#000000", "strokeWidth": 1},
       "encoding": {"x": {"datum": 0, "type": "quantitative"}, "x2": {"datum": 251}, "y": {"field": "v", "type": "quantitative", "axis": {"orient": "right", "values": [6, 4, 2, 0, -4, -6, -8, -10], "format": "d", "grid": true, "labelOverlap": false, "labelSeparation": -30}}}},
      {"data": {"name": "sig"}, "mark": {"type": "line", "strokeWidth": 1, "color": "#ff0000"},
       "encoding": {"x": {"field": "i", "type": "quantitative"}, "y": {"field": "v", "type": "quantitative", "axis": {"orient": "right", "values": [6, 4, 2, 0, -4, -6, -8, -10], "format": "d", "grid": true, "labelOverlap": false, "labelSeparation": -30}}}},
      {"data": {"name": "macd"}, "mark": {"type": "line", "strokeWidth": 1, "color": "#2a2ad8"},
       "encoding": {
         "x": {"field": "i", "type": "quantitative"},
         "y": {"field": "v", "type": "quantitative", "axis": {"orient": "right", "values": [6, 4, 2, 0, -4, -6, -8, -10], "format": "d", "grid": true, "labelOverlap": false, "labelSeparation": -30}},
         "strokeDash": {"datum": "MACD - Moving Average Conv. Div. (12,26,9) [3.17]", "type": "nominal", "scale": {"range": [[1, 0]]},
                        "legend": {"orient": "none", "legendX": 0, "legendY": 0, "title": null, "symbolOpacity": 0, "symbolSize": 0, "symbolStrokeWidth": 0, "labelOffset": 0, "labelFontSize": 12, "strokeColor": "#3366cc", "fillColor": "#ffffff", "padding": 2}}
       }}
    ]
  },
  {
    "width": 1227, "height": 107,
    "layer": [
      {"data": {"values": [{"v": 0}]}, "mark": {"type": "rule", "color": "#000000", "strokeWidth": 1},
       "encoding": {
         "x": {"datum": 0, "type": "quantitative", "scale": {"domain": [-5.5, 258.4], "nice": false, "zero": false, "padding": 0},
               "axis": {"values": [0, 42, 83.5, 126.8, 171.1, 212.1], "grid": true, "ticks": false, "labels": false, "title": "Sponser chart - תוכנה לניתוח טכני", "titleColor": "#4b3c9c", "titleFont": "Liberation Sans", "titleFontSize": 11.5, "titleFontWeight": "normal", "titlePadding": 4, "titleX": 637}},
         "x2": {"datum": 251},
         "y": {"field": "v", "type": "quantitative", "scale": {"domain": [-2.43, 7.74], "nice": false, "zero": false},
               "axis": {"orient": "right", "values": [-2, -1, 0, 1, 2, 3, 4, 5, 6], "format": ".1f", "grid": true, "labelOverlap": false, "labelSeparation": -30}}
       }},
      {"data": {"name": "osc"}, "mark": {"type": "line", "strokeWidth": 1, "color": "#2a2ad8"},
       "encoding": {
         "x": {"field": "i", "type": "quantitative"},
         "y": {"field": "v", "type": "quantitative", "axis": {"orient": "right", "values": [-2, -1, 0, 1, 2, 3, 4, 5, 6], "format": ".1f", "grid": true, "labelOverlap": false, "labelSeparation": -30}},
         "strokeDash": {"datum": "MACDO - MACD Oscillator (12,26,9) [1.047]", "type": "nominal", "scale": {"range": [[1, 0]]},
                        "legend": {"orient": "none", "legendX": 0, "legendY": 0, "title": null, "symbolOpacity": 0, "symbolSize": 0, "symbolStrokeWidth": 0, "labelOffset": 0, "labelFontSize": 12, "strokeColor": "#3366cc", "fillColor": "#ffffff", "padding": 2}}
       }}
    ]
  }
  ]
}
]
}
